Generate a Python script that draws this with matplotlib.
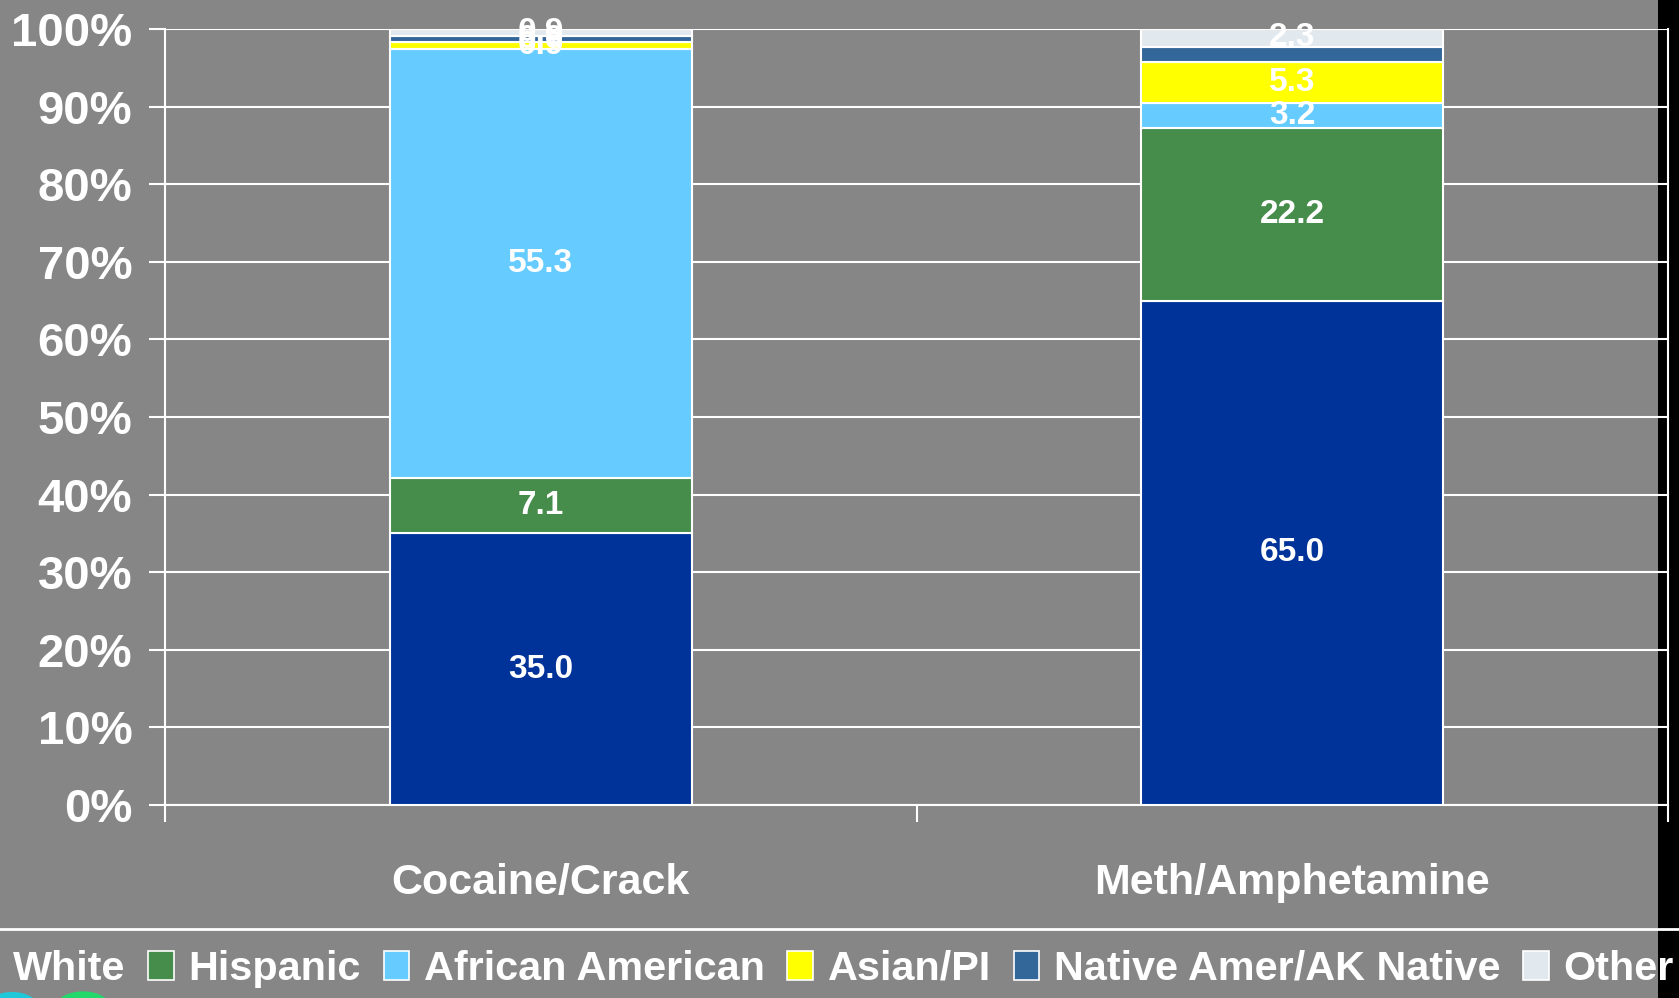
import matplotlib.pyplot as plt
import numpy as np
from matplotlib.lines import Line2D
from matplotlib.patches import Rectangle, Circle, Patch

plt.rcParams['font.family'] = ['Liberation Sans', 'DejaVu Sans']
plt.rcParams['font.weight'] = 'bold'

# datos
drogas = ['Cocaine/Crack', 'Meth/Amphetamine']
grupos = ['White', 'Hispanic', 'African American', 'Asian/PI',
          'Native Amer/AK Native', 'Other']
white = [35.0, 65.0]
hispanic = [7.1, 22.2]
african_american = [55.3, 3.2]
asian_pi = [0.9, 5.3]
native = [0.8, 2.0]
other = [0.9, 2.3]
# etiquetas visibles en cada segmento
etiquetas = [
    ['35.0', '65.0'],
    ['7.1', '22.2'],
    ['55.3', '3.2'],
    ['0.9', '5.3'],
    ['0.9', ''],
    ['0.9', '2.3'],
]
y_ticks = np.arange(0, 101, 10)

colores = ['#003399', '#468C4B', '#66CCFF', '#FFFF00', '#336699', '#E1E8EE']
fondo = '#868686'

fig = plt.figure(figsize=(16.79, 9.98), dpi=100, facecolor=fondo)
ax = fig.add_axes([165/1679, 1-805/998, (1668-165)/1679, (805-29)/998])
ax.set_facecolor('none')

# franja negra a la derecha
fig.add_artist(Rectangle((1658/1679, 0), 1 - 1658/1679, 1, transform=fig.transFigure,
                         facecolor='black', edgecolor='none', zorder=-5))

x = np.arange(len(drogas))
base = np.zeros(len(drogas))
series = [white, hispanic, african_american, asian_pi, native, other]
for vals, col, lab in zip(series, colores, etiquetas):
    bars = ax.bar(x, vals, bottom=base, width=0.402, color=col,
                  edgecolor='white', linewidth=1.5, zorder=3)
    ax.bar_label(bars, labels=lab, label_type='center', color='white',
                 fontsize=24, fontweight='bold', zorder=4)
    base = base + np.array(vals)

ax.set_xlim(-0.5, 1.5)
ax.set_ylim(0, 100)
ax.set_yticks(y_ticks)
ax.set_yticklabels([f'{v}%' for v in y_ticks])
ax.grid(axis='y', color='white', linewidth=1.5, zorder=0)
ax.set_xticks(x)
ax.set_xticklabels(drogas)
ax.set_xticks([-0.5, 0.5, 1.5], minor=True)
ax.tick_params(axis='x', which='major', length=0, pad=42, labelsize=31,
               labelcolor='white')
ax.tick_params(axis='x', which='minor', length=12, width=1.5, color='white',
               direction='out')
ax.tick_params(axis='y', length=11.5, width=1.5, color='white', pad=12,
               labelsize=34, labelcolor='white')
for s in ['left', 'bottom', 'right']:
    ax.spines[s].set_color('white')
    ax.spines[s].set_linewidth(1.5)
ax.spines['top'].set_visible(False)

# linea separadora sobre la leyenda
fig.add_artist(Line2D([0, 1], [1-929/998, 1-929/998], transform=fig.transFigure,
                      color='white', linewidth=2))

# leyenda
handles = [Patch(facecolor=c, edgecolor='white', linewidth=1.2) for c in colores]
fig.legend(handles, grupos, loc='center left', bbox_to_anchor=(-27/1679, 1-969/998),
           ncol=6, frameon=False, fontsize=29.8, labelcolor='white',
           handlelength=0.62, handleheight=0.72, handletextpad=0.35,
           columnspacing=0.55, borderpad=0, borderaxespad=0)

# circulos decorativos abajo a la izquierda
fig.add_artist(Circle((12/1679, 1-1008/998), 27/1679, transform=fig.transFigure,
                      facecolor='#1ec8d8', edgecolor='none'))
fig.add_artist(Circle((83/1679, 1-1008/998), 28/1679, transform=fig.transFigure,
                      facecolor='#22d86a', edgecolor='none'))

plt.savefig('out.png', dpi=100, facecolor=fondo)
